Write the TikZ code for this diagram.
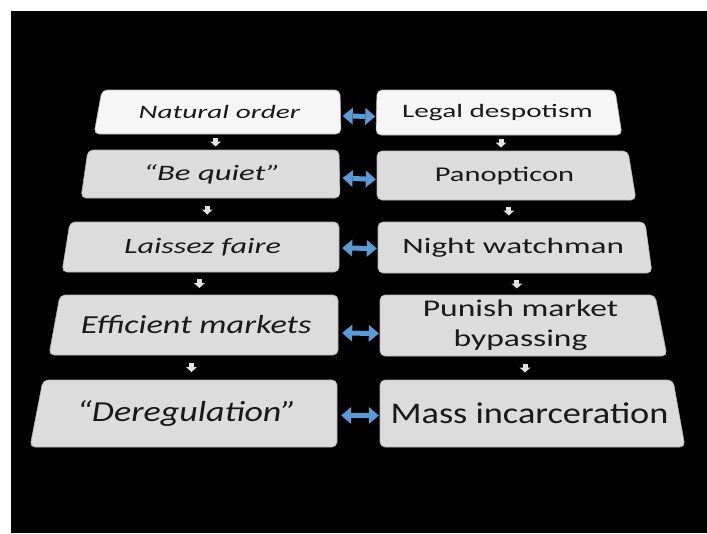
\documentclass[tikz,border=0pt]{standalone}
\usepackage{fontspec}
\setmainfont{Carlito}
\usepackage{graphicx}
\usetikzlibrary{arrows.meta,calc}
\definecolor{arrowblue}{RGB}{91,155,213}
\definecolor{lightfill}{RGB}{246,246,246}
\definecolor{grayfill}{RGB}{220,220,220}
\definecolor{edgegray}{RGB}{180,180,180}
\definecolor{txtcol}{RGB}{25,25,25}
\definecolor{downgray}{RGB}{226,226,226}
\newcommand\setfs[1]{\fontsize{#1}{#1}\selectfont}
% name, x left top, x left bottom, x right top, x right bottom, y top, y bottom, fill, text
\newcommand\slab[9]{%
  \filldraw[slabshape, fill=#8] (#2,#6) -- (#4,#6) -- (#5,#7) -- (#3,#7) -- cycle;
  \node[slabtext, minimum width={(#4+#5)/2-(#2+#3)/2}, minimum height={#7-#6}]
    (#1) at ({((#2+#3)/2+(#4+#5)/2)/2},{(#6+#7)/2}) {#9};
}
\tikzset{
  slabshape/.style={rounded corners=5pt, draw=edgegray, line width=0.6pt},
  slabtext/.style={inner sep=0pt, text=txtcol, align=center},
  harrow/.style={draw=arrowblue, line width=5pt,
    arrows={Triangle[width=17pt,length=10pt,line width=0pt]-Triangle[width=17pt,length=10pt,line width=0pt]}},
  darrow/.style={draw=downgray, line width=5pt,
    arrows={-Triangle[width=11pt,length=5pt,line width=0pt]}}
}
\begin{document}
\begin{tikzpicture}[x=1pt,y=-1pt]
\useasboundingbox (0,0) rectangle (707,533);
\fill[white] (0,0) rectangle (707,533);
\fill[black] (11,11) rectangle (707,533);
% left column
\slab{L1}{102}{94}{340}{341}{90}{134}{lightfill}{\setfs{19}\itshape\scalebox{1.54}[1]{Natural order}}
\slab{L2}{88}{81}{339}{340}{150}{198}{grayfill}{\setfs{22}\itshape\scalebox{1.49}[1]{“Be quiet”}}
\slab{L3}{70}{62}{339}{339}{222}{272}{grayfill}{\setfs{22}\itshape\scalebox{1.46}[1]{Laissez faire}}
\slab{L4}{60}{49}{338}{338}{295}{355}{grayfill}{\setfs{26}\itshape\scalebox{1.32}[1]{Efficient markets}}
\slab{L5}{43}{30}{337}{337}{380}{447}{grayfill}{\setfs{29}\itshape\scalebox{1.24}[1]{“Deregulation”}}
% right column
\slab{R1}{377}{376}{615}{622}{90}{135}{lightfill}{\setfs{19}\scalebox{1.54}[1]{Legal despotism}}
\slab{R2}{377}{377}{628}{636}{151}{200}{grayfill}{\setfs{21}\scalebox{1.45}[1]{Panopticon}}
\slab{R3}{378}{378}{645}{652}{222}{273}{grayfill}{\setfs{22}\scalebox{1.51}[1]{Night watchman}}
\slab{R4}{380}{380}{655}{667}{295}{356}{grayfill}{\fontsize{24}{30}\selectfont\scalebox{1.4}[1]{\begin{tabular}{@{}c@{}}Punish market\\bypassing\end{tabular}}}
\slab{R5}{380}{380}{673}{685}{380}{447}{grayfill}{\setfs{30}\scalebox{1.21}[1]{Mass incarceration}}
% horizontal double arrows
\draw[harrow] ([xshift=2pt,yshift=-4pt]L1.east) -- ([xshift=-1pt,yshift=-4pt]R1.west);
\draw[harrow] ([xshift=3pt,yshift=-4pt]L2.east) -- ([xshift=-1pt,yshift=-4pt]R2.west);
\draw[harrow] ([xshift=3pt,yshift=-1pt]L3.east) -- ([xshift=-1pt,yshift=-1pt]R3.west);
\draw[harrow] ([xshift=4pt,yshift=-8pt]L4.east) -- ([xshift=-1pt,yshift=-8pt]R4.west);
\draw[harrow] ([xshift=4pt,yshift=-2pt]L5.east) -- ([xshift=-1pt,yshift=-2pt]R5.west);
% down arrows
\foreach \a/\b in {L1/L2,L2/L3,L3/L4,L4/L5,R1/R2,R2/R3,R3/R4,R4/R5}{
  \draw[darrow] ($(\a.south)!.5!(\b.north)+(0,-4.5)$) -- ($(\a.south)!.5!(\b.north)+(0,4.5)$);
}
\end{tikzpicture}
\end{document}
